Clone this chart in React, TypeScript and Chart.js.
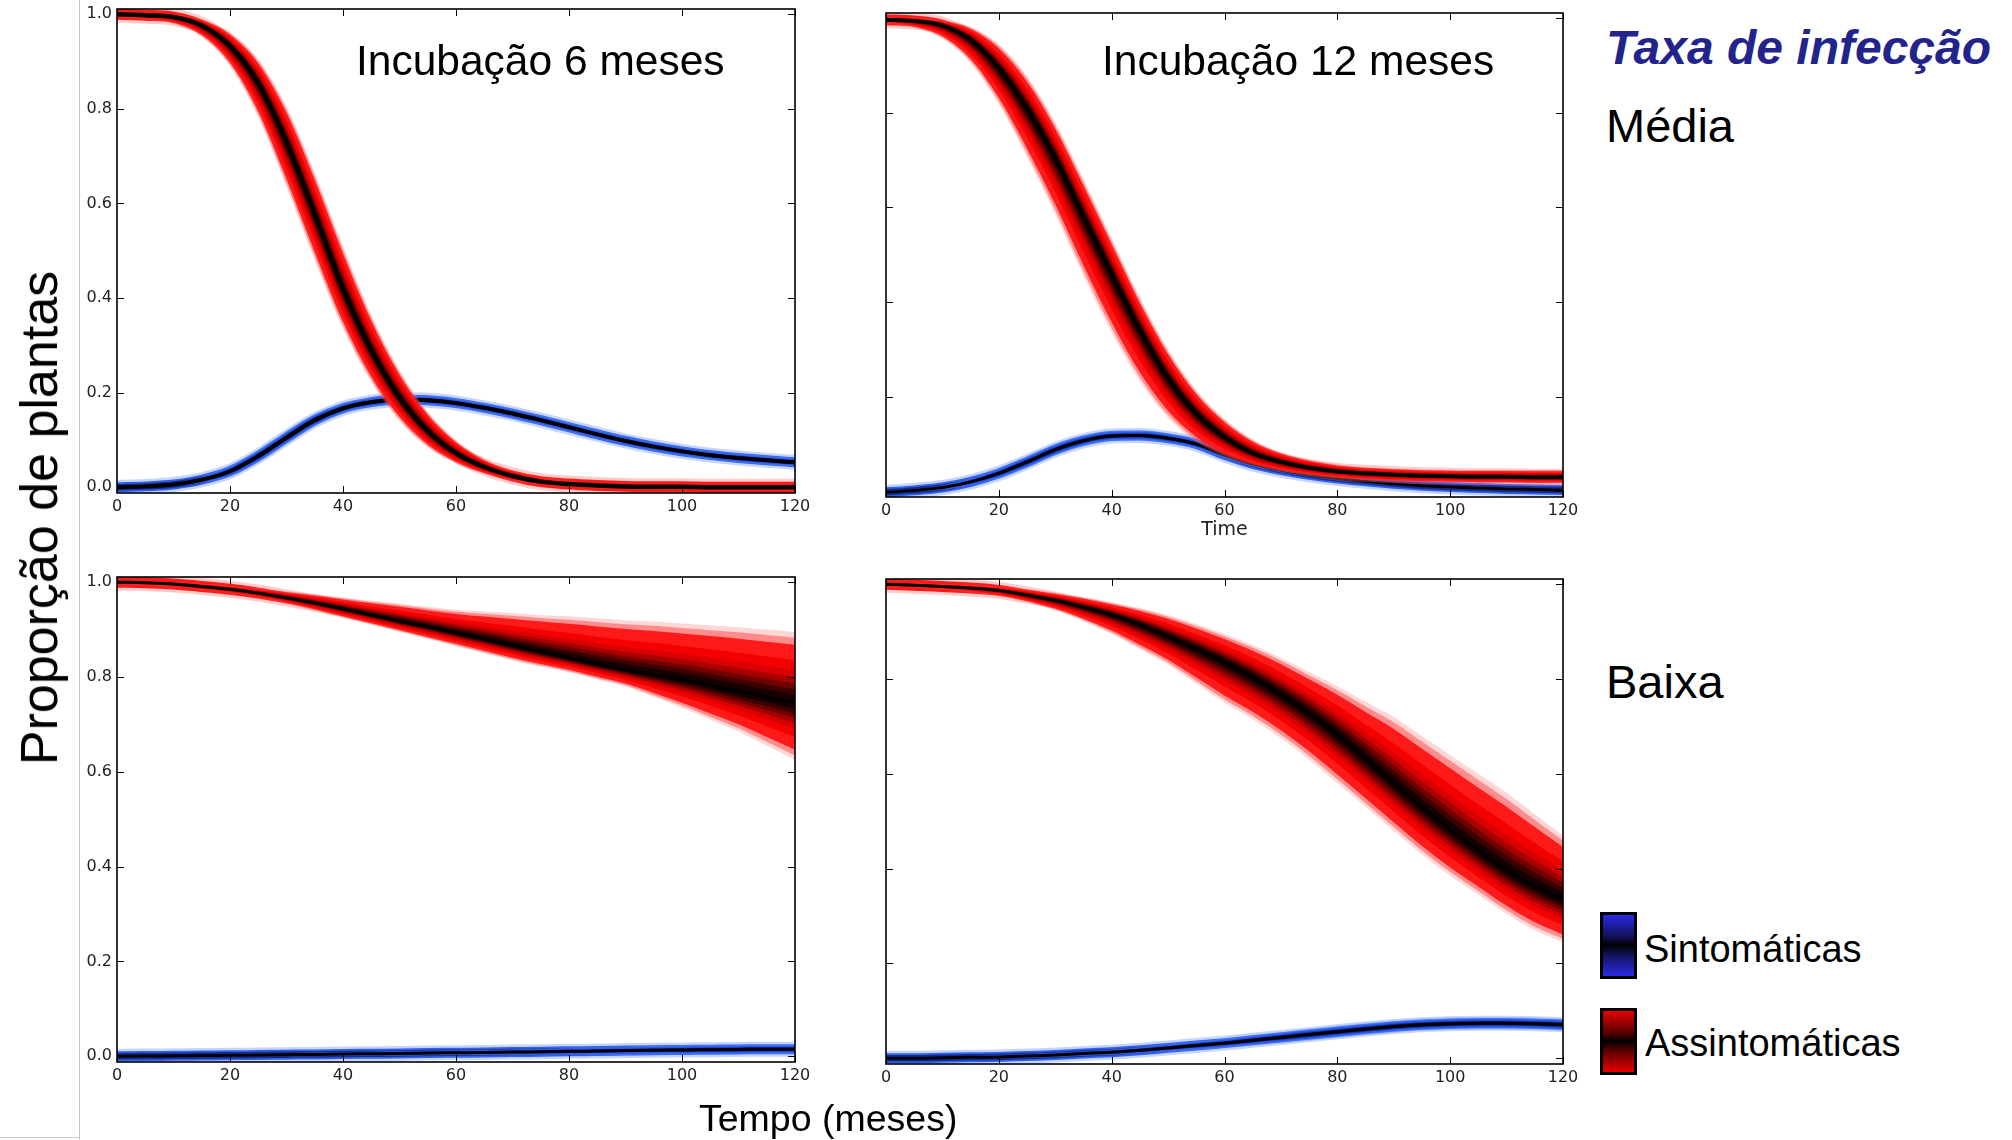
import React, { useEffect, useRef } from 'react';
import { Chart, registerables } from 'chart.js';

Chart.register(...registerables);
Chart.defaults.font.family = "'DejaVu Sans', sans-serif";

// ---------------- data (time in months, proportion of plants) ----------------
const TIME = [0, 5, 10, 15, 20, 25, 30, 35, 40, 45, 50, 55, 60, 65, 70, 75, 80, 85, 90, 95, 100, 105, 110, 115, 120];
const X_TICKS = [0, 20, 40, 60, 80, 100, 120];
const Y_TICKS = [0, 0.2, 0.4, 0.6, 0.8, 1.0];

// Top-left: incubation 6 months, medium infection rate
const TL_RED_MEAN = [1.0, 0.998, 0.994, 0.976, 0.933, 0.855, 0.73, 0.578, 0.42, 0.29, 0.19, 0.119, 0.072, 0.043, 0.024, 0.012, 0.007, 0.004, 0.002, 0.001, 0.001, 0.0, 0.0, 0.0, 0.0];
const TL_RED_HI = [1.004, 1.002, 0.999, 0.99, 0.962, 0.905, 0.805, 0.665, 0.51, 0.365, 0.248, 0.16, 0.1, 0.06, 0.036, 0.021, 0.013, 0.008, 0.006, 0.005, 0.004, 0.004, 0.003, 0.003, 0.003];
const TL_RED_LO = [0.994, 0.99, 0.98, 0.952, 0.89, 0.782, 0.635, 0.48, 0.335, 0.222, 0.14, 0.084, 0.05, 0.028, 0.014, 0.006, 0.002, 0.0, -0.002, -0.003, -0.003, -0.003, -0.003, -0.003, -0.003];
const TL_BLUE_MEAN = [0.0, 0.002, 0.006, 0.016, 0.034, 0.066, 0.105, 0.142, 0.167, 0.18, 0.185, 0.184, 0.178, 0.168, 0.156, 0.142, 0.127, 0.112, 0.098, 0.086, 0.076, 0.068, 0.062, 0.057, 0.053];
const TL_BLUE_HI = [0.003, 0.005, 0.01, 0.023, 0.046, 0.08, 0.12, 0.156, 0.178, 0.19, 0.195, 0.194, 0.188, 0.178, 0.166, 0.152, 0.137, 0.121, 0.107, 0.095, 0.085, 0.077, 0.071, 0.066, 0.062];
const TL_BLUE_LO = [-0.003, -0.001, 0.002, 0.009, 0.022, 0.052, 0.09, 0.128, 0.156, 0.17, 0.175, 0.174, 0.168, 0.158, 0.146, 0.132, 0.117, 0.103, 0.089, 0.077, 0.067, 0.059, 0.053, 0.048, 0.044];

// Top-right: incubation 12 months, medium infection rate
const TR_RED_MEAN = [0.997, 0.994, 0.985, 0.955, 0.895, 0.81, 0.705, 0.582, 0.46, 0.342, 0.24, 0.165, 0.115, 0.081, 0.062, 0.05, 0.042, 0.038, 0.035, 0.033, 0.032, 0.031, 0.031, 0.03, 0.03];
const TR_RED_HI = [1.002, 1.0, 0.996, 0.982, 0.945, 0.878, 0.78, 0.66, 0.535, 0.41, 0.3, 0.214, 0.153, 0.11, 0.083, 0.067, 0.057, 0.051, 0.048, 0.046, 0.045, 0.045, 0.045, 0.045, 0.045];
const TR_RED_LO = [0.99, 0.98, 0.957, 0.905, 0.818, 0.706, 0.585, 0.455, 0.335, 0.232, 0.155, 0.104, 0.073, 0.054, 0.042, 0.034, 0.028, 0.024, 0.021, 0.02, 0.019, 0.018, 0.018, 0.017, 0.017];
const TR_BLUE_MEAN = [-0.002, 0.002, 0.008, 0.02, 0.038, 0.062, 0.088, 0.107, 0.117, 0.118, 0.112, 0.1, 0.077, 0.058, 0.045, 0.035, 0.027, 0.021, 0.016, 0.012, 0.009, 0.007, 0.005, 0.004, 0.003];
const TR_BLUE_HI = [0.001, 0.005, 0.013, 0.028, 0.049, 0.075, 0.101, 0.119, 0.128, 0.129, 0.123, 0.11, 0.085, 0.064, 0.05, 0.039, 0.031, 0.025, 0.019, 0.015, 0.012, 0.01, 0.008, 0.007, 0.006];
const TR_BLUE_LO = [-0.005, -0.001, 0.003, 0.012, 0.027, 0.049, 0.075, 0.095, 0.106, 0.107, 0.101, 0.09, 0.069, 0.052, 0.04, 0.031, 0.023, 0.017, 0.013, 0.009, 0.006, 0.004, 0.002, 0.001, 0.0];

// Bottom-left: incubation 6 months, low infection rate
const BL_RED_MEAN = [1.0, 0.999, 0.996, 0.991, 0.985, 0.977, 0.967, 0.956, 0.944, 0.931, 0.918, 0.906, 0.893, 0.88, 0.866, 0.853, 0.84, 0.827, 0.815, 0.805, 0.795, 0.783, 0.77, 0.758, 0.746];
const BL_RED_HI = [1.003, 1.002, 1.0, 0.997, 0.992, 0.987, 0.981, 0.975, 0.968, 0.961, 0.955, 0.948, 0.942, 0.938, 0.935, 0.931, 0.928, 0.924, 0.92, 0.917, 0.913, 0.909, 0.905, 0.9, 0.895];
const BL_RED_LO = [0.995, 0.994, 0.99, 0.984, 0.977, 0.967, 0.955, 0.94, 0.925, 0.91, 0.895, 0.88, 0.865, 0.85, 0.835, 0.822, 0.81, 0.795, 0.78, 0.758, 0.735, 0.71, 0.685, 0.655, 0.625];
const BL_BLUE_MEAN = [0.0, 0.0005, 0.001, 0.0015, 0.002, 0.003, 0.0035, 0.004, 0.005, 0.0055, 0.006, 0.007, 0.0075, 0.008, 0.009, 0.0095, 0.0105, 0.011, 0.012, 0.013, 0.0135, 0.014, 0.0145, 0.015, 0.015];
const BL_BLUE_HI = [0.002, 0.002, 0.003, 0.004, 0.005, 0.006, 0.007, 0.008, 0.009, 0.01, 0.011, 0.012, 0.013, 0.014, 0.015, 0.016, 0.018, 0.019, 0.02, 0.022, 0.023, 0.024, 0.025, 0.025, 0.025];
const BL_BLUE_LO = [-0.002, -0.002, -0.001, -0.001, -0.001, 0.0, 0.0, 0.0, 0.001, 0.001, 0.001, 0.002, 0.002, 0.002, 0.003, 0.003, 0.003, 0.003, 0.004, 0.004, 0.004, 0.004, 0.004, 0.005, 0.005];

// Bottom-right: incubation 12 months, low infection rate
const BR_RED_MEAN = [1.0, 0.998, 0.995, 0.992, 0.987, 0.977, 0.966, 0.952, 0.936, 0.915, 0.89, 0.864, 0.836, 0.804, 0.768, 0.728, 0.683, 0.632, 0.58, 0.53, 0.483, 0.438, 0.397, 0.363, 0.335];
const BR_RED_HI = [1.003, 1.002, 1.0, 0.998, 0.995, 0.99, 0.982, 0.973, 0.962, 0.95, 0.935, 0.916, 0.895, 0.872, 0.845, 0.815, 0.785, 0.752, 0.72, 0.68, 0.64, 0.6, 0.56, 0.515, 0.47];
const BR_RED_LO = [0.995, 0.993, 0.99, 0.983, 0.975, 0.962, 0.945, 0.922, 0.895, 0.863, 0.83, 0.79, 0.75, 0.715, 0.675, 0.63, 0.58, 0.53, 0.48, 0.43, 0.385, 0.345, 0.305, 0.27, 0.245];
const BR_BLUE_MEAN = [0.0, 0.0, 0.001, 0.002, 0.003, 0.005, 0.007, 0.01, 0.013, 0.017, 0.022, 0.027, 0.032, 0.038, 0.044, 0.05, 0.056, 0.062, 0.067, 0.071, 0.073, 0.074, 0.074, 0.073, 0.071];
const BR_BLUE_HI = [0.002, 0.002, 0.003, 0.005, 0.007, 0.009, 0.012, 0.015, 0.019, 0.024, 0.03, 0.036, 0.042, 0.049, 0.056, 0.063, 0.069, 0.075, 0.08, 0.084, 0.086, 0.087, 0.087, 0.086, 0.084];
const BR_BLUE_LO = [-0.002, -0.002, -0.001, 0.0, 0.0, 0.001, 0.003, 0.005, 0.007, 0.01, 0.014, 0.018, 0.022, 0.027, 0.032, 0.037, 0.043, 0.049, 0.054, 0.058, 0.06, 0.061, 0.061, 0.06, 0.058];

// ---------------- styling ----------------
type Layer = { f: number; color: string };
const RED_LAYERS: Layer[] = [
  { f: 1.0, color: 'rgba(255,110,110,0.28)' },
  { f: 0.92, color: 'rgba(255,50,50,0.45)' },
  { f: 0.82, color: '#ff1a1a' },
  { f: 0.6, color: '#f40000' },
  { f: 0.46, color: '#d80000' },
  { f: 0.36, color: '#a80000' },
  { f: 0.27, color: '#700000' },
  { f: 0.19, color: '#3c0000' },
  { f: 0.11, color: '#140000' },
];
const BLUE_LAYERS: Layer[] = [
  { f: 1.0, color: 'rgba(110,150,255,0.35)' },
  { f: 0.85, color: 'rgba(60,110,250,0.6)' },
  { f: 0.65, color: '#2858e8' },
  { f: 0.45, color: '#1434a8' },
  { f: 0.28, color: '#0a1a58' },
];
type Halo = { width: number; color: string };
const RED_HALO: Halo[] = [
  { width: 17, color: 'rgba(255,110,110,0.35)' },
  { width: 11, color: '#ff1a1a' },
];
const BLUE_HALO: Halo[] = [
  { width: 15, color: 'rgba(110,150,255,0.40)' },
  { width: 10, color: '#3060ee' },
  { width: 6.5, color: '#142c90' },
];

type Ens = { mean: number[]; hi: number[]; lo: number[] };

function ensembleDatasets(e: Ens, layers: Layer[], halos: Halo[], lineWidth: number, orderStart: number) {
  const ds: any[] = [];
  let order = orderStart;
  const meanPts = () => TIME.map((t, i) => ({ x: t, y: e.mean[i] }));
  halos.forEach((h) => {
    ds.push({ data: meanPts(), fill: false, borderColor: h.color, borderWidth: h.width, pointRadius: 0, order, borderCapStyle: 'round' });
    order--;
  });
  layers.forEach((L) => {
    ds.push({
      data: TIME.map((t, i) => ({ x: t, y: e.mean[i] + L.f * (e.hi[i] - e.mean[i]) })),
      fill: '+1', backgroundColor: L.color, borderColor: 'transparent', borderWidth: 0, pointRadius: 0, order,
    });
    ds.push({
      data: TIME.map((t, i) => ({ x: t, y: e.mean[i] + L.f * (e.lo[i] - e.mean[i]) })),
      fill: false, borderColor: 'transparent', borderWidth: 0, pointRadius: 0, order,
    });
    order--;
  });
  ds.push({ data: meanPts(), fill: false, borderColor: '#000', borderWidth: lineWidth, pointRadius: 0, order });
  return ds;
}

const framePlugin = {
  id: 'frameTicks',
  afterDraw(chart: any) {
    const { ctx, chartArea: a, scales } = chart;
    const L = 7;
    ctx.save();
    ctx.strokeStyle = '#000';
    ctx.lineWidth = 1;
    ctx.beginPath();
    for (const t of scales.x.ticks) {
      const px = Math.round(scales.x.getPixelForValue(t.value)) + 0.5;
      ctx.moveTo(px, a.bottom); ctx.lineTo(px, a.bottom - L);
      ctx.moveTo(px, a.top); ctx.lineTo(px, a.top + L);
    }
    for (const t of scales.y.ticks) {
      const py = Math.round(scales.y.getPixelForValue(t.value)) + 0.5;
      ctx.moveTo(a.left, py); ctx.lineTo(a.left + L, py);
      ctx.moveTo(a.right, py); ctx.lineTo(a.right - L, py);
    }
    ctx.stroke();
    ctx.lineWidth = 1.6;
    ctx.strokeRect(a.left, a.top, a.right - a.left, a.bottom - a.top);
    ctx.restore();
  },
};

type PanelProps = {
  left: number; top: number; width: number; height: number;
  pad: { top: number; right: number; bottom: number };
  yWidth: number; xHeight: number; yLabels: boolean; xTitle?: string;
  red: Ens; blue: Ens; redLine: number; blueLine: number;
};

function Panel(p: PanelProps) {
  const ref = useRef<HTMLCanvasElement | null>(null);
  useEffect(() => {
    if (!ref.current) return;
    const datasets = [
      ...ensembleDatasets(p.blue, BLUE_LAYERS, BLUE_HALO, p.blueLine, 200),
      ...ensembleDatasets(p.red, RED_LAYERS, RED_HALO, p.redLine, 100),
    ];
    const chart = new Chart(ref.current, {
      type: 'line',
      data: { datasets },
      options: {
        animation: false,
        responsive: false,
        maintainAspectRatio: false,
        events: [],
        layout: { padding: { left: 0, top: p.pad.top, right: p.pad.right, bottom: p.pad.bottom } },
        plugins: { legend: { display: false }, tooltip: { enabled: false } },
        elements: { point: { radius: 0 }, line: { cubicInterpolationMode: 'monotone' } },
        scales: {
          x: {
            type: 'linear', min: 0, max: 120,
            afterBuildTicks: (s: any) => { s.ticks = X_TICKS.map((v) => ({ value: v })); },
            afterFit: (s: any) => { s.height = p.xHeight; s.paddingLeft = 0; s.paddingRight = 0; },
            grid: { display: false, drawTicks: false },
            border: { display: false },
            ticks: { padding: 4, color: '#222', font: { size: 16 }, maxRotation: 0, autoSkip: false, callback: (v: any) => String(v) },
            title: p.xTitle
              ? { display: true, text: p.xTitle, color: '#222', font: { size: 19 }, padding: { top: 0, bottom: 4 } }
              : { display: false },
          },
          y: {
            type: 'linear', min: -0.012, max: 1.011,
            afterBuildTicks: (s: any) => { s.ticks = Y_TICKS.map((v) => ({ value: v })); },
            afterFit: (s: any) => { s.width = p.yWidth; s.paddingTop = 0; s.paddingBottom = 0; },
            grid: { display: false, drawTicks: false },
            border: { display: false },
            ticks: { display: p.yLabels, padding: 5, color: '#222', font: { size: 16 }, callback: (v: any) => Number(v).toFixed(1) },
          },
        },
      } as any,
      plugins: [framePlugin],
    });
    return () => chart.destroy();
  }, []);
  return (
    <canvas
      ref={ref}
      width={p.width}
      height={p.height}
      style={{ position: 'absolute', left: p.left, top: p.top, width: p.width, height: p.height }}
    />
  );
}

function Txt(props: { x: number; cy: number; size: number; text: string; style?: React.CSSProperties }) {
  return (
    <div
      style={{
        position: 'absolute', left: props.x, top: props.cy - props.size / 2, fontSize: props.size,
        lineHeight: `${props.size}px`, whiteSpace: 'nowrap', color: '#000', ...props.style,
      }}
    >
      {props.text}
    </div>
  );
}

export default function App() {
  const legendBox = (top: number, c: string, d: string): React.CSSProperties => ({
    position: 'absolute', left: 1600, top, width: 31, height: 61, border: '3px solid #000',
    background: `linear-gradient(to bottom, ${c} 0%, ${d} 35%, #000 50%, ${d} 65%, ${c} 100%)`,
  });
  return (
    <div
      style={{
        position: 'fixed', left: 0, top: 0, width: 2012, height: 1140, background: '#fff', overflow: 'hidden',
        fontFamily: "'Liberation Sans', Arial, sans-serif",
      }}
    >
      <div style={{ position: 'absolute', left: 79, top: 0, width: 1, height: 1140, background: '#c8c8c8' }} />
      <div style={{ position: 'absolute', left: 0, top: 1137, width: 80, height: 1, background: '#c8c8c8' }} />
      <Panel left={0} top={0} width={830} height={540} pad={{ top: 9, right: 35, bottom: 17 }} yWidth={117} xHeight={30}
        yLabels red={{ mean: TL_RED_MEAN, hi: TL_RED_HI, lo: TL_RED_LO }} blue={{ mean: TL_BLUE_MEAN, hi: TL_BLUE_HI, lo: TL_BLUE_LO }}
        redLine={4.5} blueLine={4} />
      <Panel left={800} top={0} width={800} height={560} pad={{ top: 13, right: 37, bottom: 15 }} yWidth={86} xHeight={48}
        yLabels={false} xTitle="Time" red={{ mean: TR_RED_MEAN, hi: TR_RED_HI, lo: TR_RED_LO }}
        blue={{ mean: TR_BLUE_MEAN, hi: TR_BLUE_HI, lo: TR_BLUE_LO }} redLine={4} blueLine={3} />
      <Panel left={0} top={540} width={830} height={560} pad={{ top: 37, right: 35, bottom: 8 }} yWidth={117} xHeight={30}
        yLabels red={{ mean: BL_RED_MEAN, hi: BL_RED_HI, lo: BL_RED_LO }} blue={{ mean: BL_BLUE_MEAN, hi: BL_BLUE_HI, lo: BL_BLUE_LO }}
        redLine={3} blueLine={3} />
      <Panel left={800} top={540} width={800} height={560} pad={{ top: 39, right: 37, bottom: 6 }} yWidth={86} xHeight={30}
        yLabels={false} red={{ mean: BR_RED_MEAN, hi: BR_RED_HI, lo: BR_RED_LO }} blue={{ mean: BR_BLUE_MEAN, hi: BR_BLUE_HI, lo: BR_BLUE_LO }}
        redLine={3} blueLine={3} />

      <Txt x={356} cy={61} size={42.5} text="Incubação 6 meses" />
      <Txt x={1102} cy={61} size={42.5} text="Incubação 12 meses" />
      <Txt x={1606} cy={48} size={48} text="Taxa de infecção" style={{ color: '#23238c', fontWeight: 'bold', fontStyle: 'italic' }} />
      <Txt x={1606} cy={125} size={47} text="Média" />
      <Txt x={1606} cy={681} size={47} text="Baixa" />
      <Txt x={699} cy={1119} size={37.5} text="Tempo (meses)" />
      <div
        style={{
          position: 'absolute', left: 39, top: 518, fontSize: 52, lineHeight: '52px', whiteSpace: 'nowrap',
          transform: 'translate(-50%, -50%) rotate(-90deg)', color: '#000',
        }}
      >
        Proporção de plantas
      </div>
      <div style={legendBox(912, '#2a2ae6', '#12125a')} />
      <div style={legendBox(1008, '#e60000', '#5a0000')} />
      <Txt x={1644} cy={949} size={38} text="Sintomáticas" />
      <Txt x={1645} cy={1043} size={38} text="Assintomáticas" />
    </div>
  );
}
